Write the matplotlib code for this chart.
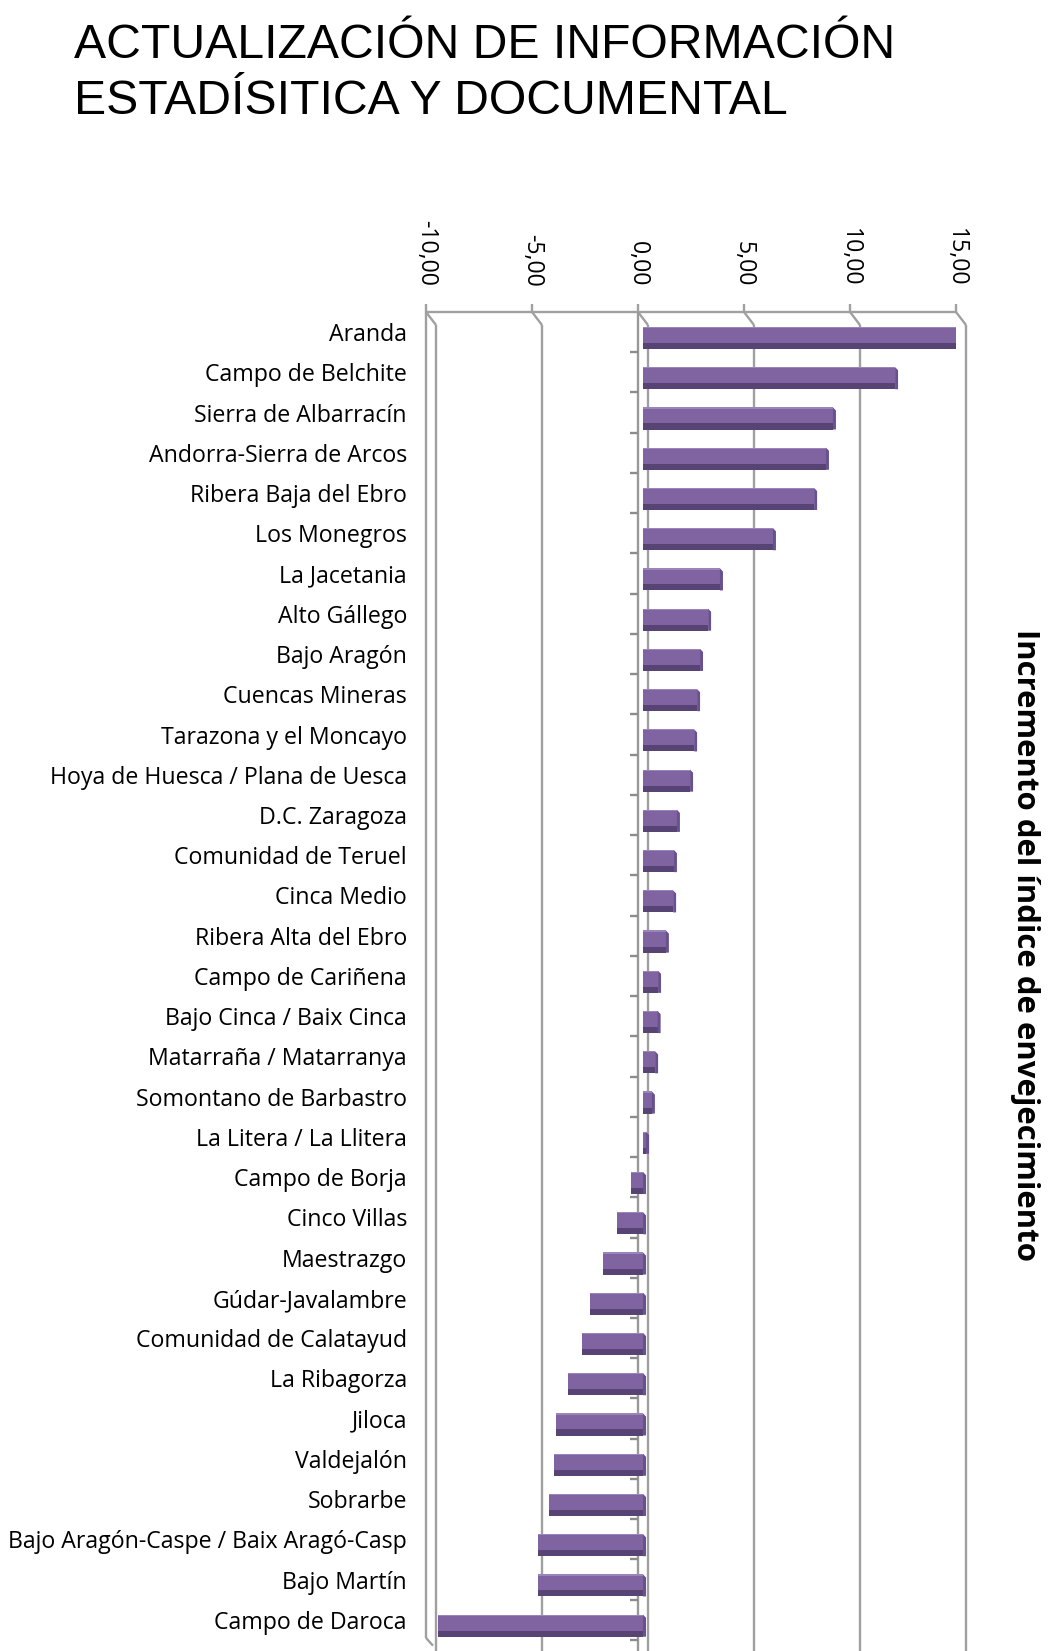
import matplotlib
matplotlib.use("Agg")
import matplotlib.pyplot as plt
from matplotlib.patches import Polygon
import numpy as np

categories = [
    "Aranda", "Campo de Belchite", "Sierra de Albarracín", "Andorra-Sierra de Arcos",
    "Ribera Baja del Ebro", "Los Monegros", "La Jacetania", "Alto Gállego",
    "Bajo Aragón", "Cuencas Mineras", "Tarazona y el Moncayo",
    "Hoya de Huesca / Plana de Uesca", "D.C. Zaragoza", "Comunidad de Teruel",
    "Cinca Medio", "Ribera Alta del Ebro", "Campo de Cariñena",
    "Bajo Cinca / Baix Cinca", "Matarraña / Matarranya", "Somontano de Barbastro",
    "La Litera / La Llitera", "Campo de Borja", "Cinco Villas", "Maestrazgo",
    "Gúdar-Javalambre", "Comunidad de Calatayud", "La Ribagorza", "Jiloca",
    "Valdejalón", "Sobrarbe", "Bajo Aragón-Caspe / Baix Aragó-Casp",
    "Bajo Martín", "Campo de Daroca",
]
values = [
    14.80, 11.89, 8.96, 8.63, 8.07, 6.13, 3.63, 3.07, 2.69, 2.55, 2.41,
    2.22, 1.60, 1.46, 1.42, 1.08, 0.71, 0.69, 0.57, 0.42, 0.14,
    -0.57, -1.23, -1.89, -2.50, -2.88, -3.54, -4.10, -4.20, -4.43,
    -4.95, -4.95, -9.67,
]
x_ticks = [-10, -5, 0, 5, 10, 15]
x_tick_labels = ["-10,00", "-5,00", "0,00", "5,00", "10,00", "15,00"]
title_lines = ["ACTUALIZACIÓN DE INFORMACIÓN", "ESTADÍSITICA Y DOCUMENTAL"]
axis_title = "Incremento del índice de envejecimiento"

W, H = 1052, 1651
fig = plt.figure(figsize=(W / 100, H / 100), dpi=100)
fig.patch.set_facecolor("white")

ax_left_px, ax_right_px, ax_top_px = 426, 956, 312
row_px = 40.24
ax = fig.add_axes([ax_left_px / W, 0, (ax_right_px - ax_left_px) / W, (H - ax_top_px) / H])
n = len(categories)
bottom_idx = -0.5 + (H - ax_top_px) / row_px
xmin, xmax = x_ticks[0], x_ticks[-1]
ax.set_xlim(xmin, xmax)
ax.set_ylim(bottom_idx, -0.5)
for s in ax.spines.values():
    s.set_visible(False)
ax.patch.set_alpha(0)

ux = (ax_right_px - ax_left_px) / (xmax - xmin)  # px per unit
dx = 10 / ux
dy = 13 / row_px
grid = "#A0A0A0"
lw = 1.7

def line(xs, ys, color=grid):
    ax.plot(xs, ys, color=color, lw=lw, clip_on=False, solid_capstyle="butt", zorder=1)

# frame / gridlines (3D look)
line([xmin, xmax], [-0.5, -0.5])
for t in x_ticks:
    line([t, t + dx], [-0.5, -0.5 + dy])
    line([t + dx, t + dx], [-0.5 + dy, bottom_idx])
front_bottom = n - 0.5 - 0.05
line([xmin, xmin], [-0.5, front_bottom])
line([xmin, xmin + dx * 0.7], [front_bottom, front_bottom + dy * 0.6])
line([0, 0], [-0.5, bottom_idx], color="#999999")
for b in np.arange(0.5, n, 1.0):
    line([-8 / ux, 0], [b, b], color="#8C8C8C")

# bars
front_col = "#8064A2"
dark_col = "#574475"
side_col = "#68518F"
hi_col = "#9A84BA"
shift = 5 / ux
y = np.arange(n)
top_off, front_bot, dark_bot = -0.13, 0.27, 0.42
ax.barh(y + (top_off + front_bot) / 2, values, left=shift, height=front_bot - top_off,
        color=front_col, zorder=3)
ax.barh(y + (front_bot + dark_bot) / 2, values, left=shift, height=dark_bot - front_bot,
        color=dark_col, zorder=3)
ax.barh(y + top_off + 0.015, values, left=shift, height=0.03, color=hi_col, zorder=4)
cw = 3 / ux
for i, v in enumerate(values):
    xr = shift + max(v, 0)
    poly = Polygon([(xr, i + top_off), (xr + cw, i + top_off + 0.08), (xr + cw, i + dark_bot),
                    (xr, i + dark_bot)],
                   closed=True, facecolor=side_col, edgecolor="none", zorder=4)
    ax.add_patch(poly)

# category labels
ax.set_yticks(y)
ax.set_yticklabels(categories, fontsize=16.7, family="Open Sans", color="black")
ax.tick_params(axis="y", length=0, pad=19 * 0.72)

# value axis on top
ax.xaxis.tick_top()
ax.set_xticks(x_ticks)
ax.set_xticklabels(x_tick_labels, rotation=270, fontsize=16.7, family="Open Sans", color="black")
ax.tick_params(axis="x", length=5.5, width=lw, color=grid, pad=13)

# axis title on the right
fig.text(1025 / W, 1 - 945 / H, axis_title, rotation=270, ha="center", va="center",
         fontsize=22.4, fontweight="bold", family="Open Sans", color="black")

# main title
fig.text(74 / W, 1 - 58 / H, title_lines[0], fontsize=34.7, family="Liberation Sans",
         va="baseline", ha="left", color="black")
fig.text(74 / W, 1 - 114 / H, title_lines[1], fontsize=34.7, family="Liberation Sans",
         va="baseline", ha="left", color="black")

fig.savefig("out.png", dpi=100)
